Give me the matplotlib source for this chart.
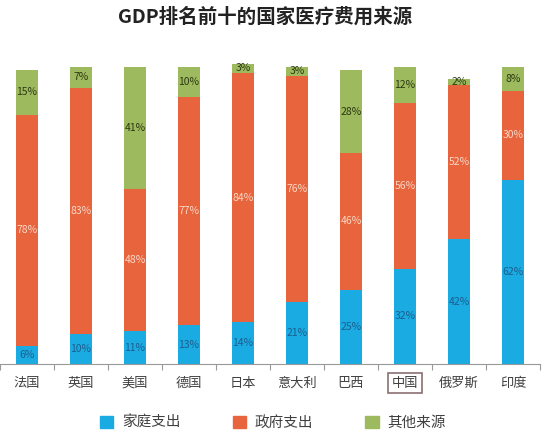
import matplotlib
matplotlib.use("Agg")
import matplotlib.pyplot as plt
import matplotlib.patches as mpatches
import numpy as np

plt.rcParams['font.family'] = ['Noto Sans CJK SC', 'DejaVu Sans']

# 数据
guojia = ["法国", "英国", "美国", "德国", "日本", "意大利", "巴西", "中国", "俄罗斯", "印度"]
jiating = [6, 10, 11, 13, 14, 21, 25, 32, 42, 62]
zhengfu = [78, 83, 48, 77, 84, 76, 46, 56, 52, 30]
qita = [15, 7, 41, 10, 3, 3, 28, 12, 2, 8]
xilie = ["家庭支出", "政府支出", "其他来源"]

c_lan = "#1AABE2"
c_ju = "#E8643C"
c_lv = "#9EBA5E"

fig = plt.figure(figsize=(5.5, 4.34), dpi=100)
ax = fig.add_axes([0, 70/434, 540/550, 110*2.97/434])

x = np.arange(len(guojia))
w = 0.39
jiating = np.array(jiating)
zhengfu = np.array(zhengfu)
qita = np.array(qita)

ax.bar(x, jiating, w, color=c_lan)
ax.bar(x, zhengfu, w, bottom=jiating, color=c_ju)
ax.bar(x, qita, w, bottom=jiating + zhengfu, color=c_lv)

for i in range(len(guojia)):
    ax.text(x[i], jiating[i] / 2, f"{jiating[i]}%", ha="center", va="center",
            fontsize=7.5, color="#1D5E8E")
    ax.text(x[i], jiating[i] + zhengfu[i] / 2, f"{zhengfu[i]}%", ha="center", va="center",
            fontsize=7.5, color="#F9D6C6")
    ax.text(x[i], jiating[i] + zhengfu[i] + qita[i] / 2, f"{qita[i]}%", ha="center", va="center",
            fontsize=7.5, color="#2B3A12")

ax.set_xlim(-0.5, 9.5)
ax.set_ylim(0, 110)
ax.set_yticks([])
for s in ["left", "right", "top"]:
    ax.spines[s].set_visible(False)
ax.spines["bottom"].set_color("#999999")

# 刻度在类别之间，标签在类别中间
ax.set_xticks(np.arange(-0.5, 10, 1))
ax.set_xticklabels([])
ax.tick_params(axis="x", which="major", length=4, color="#999999", direction="out")
ax.set_xticks(x, minor=True)
ax.set_xticklabels(guojia, minor=True, fontsize=9.5, color="#404040")
ax.tick_params(axis="x", which="minor", length=0, pad=9)

for lab in ax.get_xticklabels(minor=True):
    if lab.get_text() == "中国":
        lab.set_bbox(dict(boxstyle="square,pad=0.3", facecolor="white",
                          edgecolor="#8A6F72", linewidth=1.2))

fig.text(0.482, 0.962, "GDP排名前十的国家医疗费用来源", ha="center", va="center",
         fontsize=14, fontweight="bold", color="#222222")

handles = [mpatches.Patch(color=c_lan, label=xilie[0]),
           mpatches.Patch(color=c_ju, label=xilie[1]),
           mpatches.Patch(color=c_lv, label=xilie[2])]
fig.legend(handles=handles, loc="center", bbox_to_anchor=(0.496, 0.025), ncol=3,
           frameon=False, fontsize=10.5, handlelength=0.9, handleheight=0.9,
           handletextpad=0.6, columnspacing=3.6, labelcolor="#404040")

plt.savefig("out.png", dpi=100)
